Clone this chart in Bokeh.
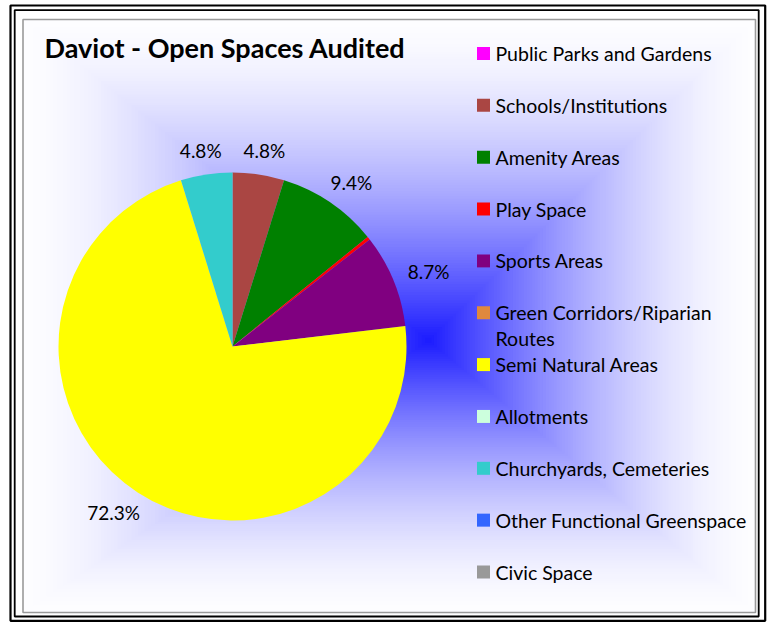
import numpy as np
from bokeh.plotting import figure
from bokeh.models import Range1d, ColumnDataSource
from bokeh.core.properties import value
from bokeh.embed import file_html
from bokeh.resources import INLINE

# ---------------- data ----------------
title_text = "Daviot - Open Spaces Audited"
categories = [
    "Public Parks and Gardens",
    "Schools/Institutions",
    "Amenity Areas",
    "Play Space",
    "Sports Areas",
    "Green Corridors/Riparian Routes",
    "Semi Natural Areas",
    "Allotments",
    "Churchyards, Cemeteries",
    "Other Functional Greenspace",
    "Civic Space",
]
values = [0.0, 4.8, 9.4, 0.3, 8.7, 0.0, 72.3, 0.0, 4.8, 0.0, 0.0]
colors = ["#FF00FF", "#AA4643", "#008000", "#FF0000", "#800080", "#E0883E",
          "#FFFF00", "#CCFFDD", "#33CCCC", "#3366FF", "#999999"]

# ---------------- layout / style ----------------
W, H = 770, 622
FONT = "Lato"

def Y(py):
    return H - py

p = figure(width=W, height=H, x_range=Range1d(0, W), y_range=Range1d(0, H),
           output_backend="svg", toolbar_location=None, min_border=0,
           x_axis_location=None, y_axis_location=None)
p.grid.visible = False
p.outline_line_color = None
p.background_fill_color = "white"
p.border_fill_color = "white"

# plot-area box (pixels)
L, T, R, B = 22.5, 19.0, 755.0, 612.0
cx, cy = 428.0, 340.0

# rectangular "from centre" gradient background made of nested quads
N = 120
lefts, rights, tops, bottoms, fills = [], [], [], [], []
for k in range(N, 0, -1):
    t = k / N
    tm = (k - 0.5) / N
    lefts.append(cx - t * (cx - L))
    rights.append(cx + t * (R - cx))
    tops.append(Y(cy - t * (cy - T)))
    bottoms.append(Y(cy + t * (B - cy)))
    c = int(round(253 - (253 - 28) * (1 - tm) ** 1.6))
    fills.append("#%02x%02xff" % (c, c))
p.quad(left=lefts, right=rights, top=tops, bottom=bottoms,
       fill_color=fills, line_color=None)

# frame lines
p.quad(left=[10.0], right=[764.7], top=[Y(5.0)], bottom=[Y(620.3)],
       fill_alpha=0, line_color="black", line_width=2.2)
p.quad(left=[14.2], right=[758.2], top=[Y(9.6)], bottom=[Y(616.0)],
       fill_alpha=0, line_color="black", line_width=1.8)
p.quad(left=[L], right=[R], top=[Y(T)], bottom=[Y(B)],
       fill_alpha=0, line_color="#9a9a9a", line_width=1.6)

# ---------------- pie ----------------
pcx, pcy, pr = 232.0, Y(346.0), 174.0
vals = np.array(values, dtype=float)
frac = vals / vals.sum()
cum = np.concatenate([[0.0], np.cumsum(frac)])
start = np.pi / 2 - 2 * np.pi * cum[:-1]
end = np.pi / 2 - 2 * np.pi * cum[1:]
mask = vals > 0
pie_src = ColumnDataSource(dict(
    start=start[mask], end=end[mask], color=[c for c, m in zip(colors, mask) if m]))
p.wedge(x=pcx, y=pcy, radius=pr, start_angle="start", end_angle="end",
        direction="clock", fill_color="color", line_color=None, source=pie_src)

# data labels (outside end)
lx, ly, lt = [], [], []
for v, a0, a1 in zip(values, start, end):
    if v < 1.0:
        continue
    txt = f"{v:.1f}%"
    mid = (a0 + a1) / 2
    ux, uy = np.cos(mid), np.sin(mid)
    w, h = 12.0 * len(txt), 20.0
    px = pcx + (pr + 14) * ux + ux * w / 2
    py = pcy + (pr + 14) * uy + uy * h / 2
    lx.append(px); ly.append(py); lt.append(txt)
p.text(x=lx, y=ly, text=lt, text_font=value(FONT), text_font_size="19px",
       text_align="center", text_baseline="middle", text_color="black")

# ---------------- title ----------------
p.text(x=[44], y=[Y(47)], text=[title_text], text_font=value(FONT),
       text_font_size="27px", text_font_style="bold", text_align="left",
       text_baseline="middle", text_color="black")

# ---------------- legend ----------------
def wrap(s, n=28):
    if len(s) <= n:
        return [s]
    cut = s.rfind(" ", 0, n)
    return [s[:cut], s[cut + 1:]]

row0, step = 53.0, 51.85
sq_x, sq_y, sq_c = [], [], []
tx, ty, tt = [], [], []
for i, (cat, col) in enumerate(zip(categories, colors)):
    yy = row0 + step * i
    sq_x.append(483.0); sq_y.append(Y(yy)); sq_c.append(col)
    for j, line in enumerate(wrap(cat)):
        tx.append(495.0); ty.append(Y(yy + 26 * j)); tt.append(line)
p.scatter(x=sq_x, y=sq_y, marker="square", size=13, fill_color=sq_c, line_color=None)
p.text(x=tx, y=ty, text=tt, text_font=value(FONT), text_font_size="19.5px",
       text_align="left", text_baseline="middle", text_color="black")

open("out.html", "w").write(file_html(p, INLINE))
